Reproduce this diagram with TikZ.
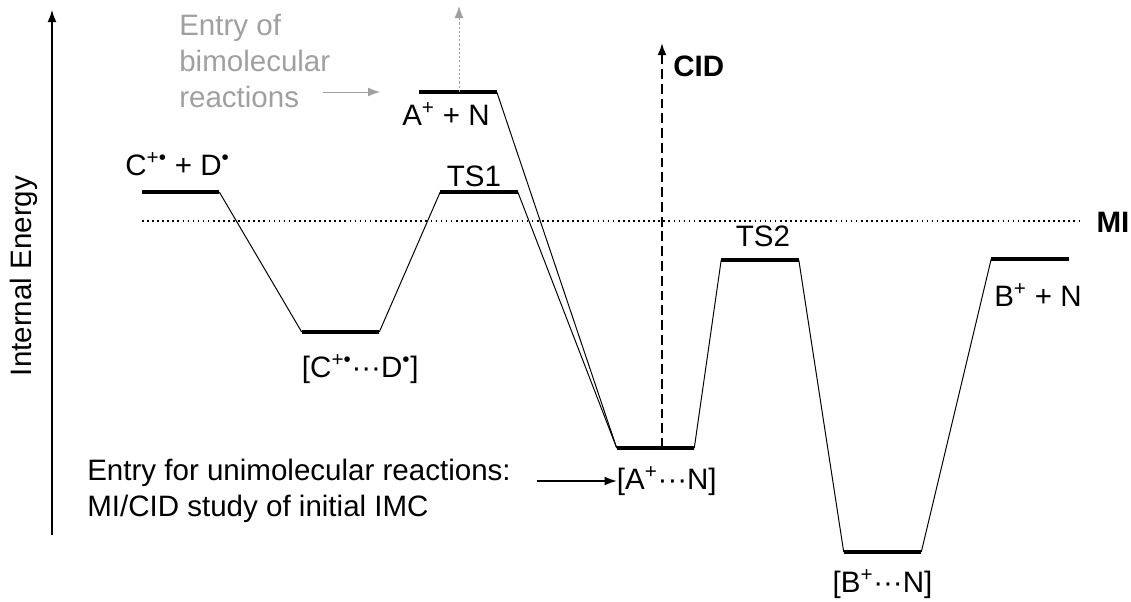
\documentclass[tikz,border=0pt]{standalone}
\usepackage{fontspec}
\setmainfont{Liberation Sans}
\usetikzlibrary{arrows.meta,positioning,calc}
\usepackage{xcolor}
\definecolor{enInk}{RGB}{0,0,0}
\definecolor{enGrey}{RGB}{160,160,160}
\tikzset{
    level/.style={
        inner sep=0pt,minimum width=1.925cm,minimum height=0pt
    },
    levelbar/.style={line width=2.6pt,draw=enInk},
    link/.style={line width=0.7pt,draw=enInk},
    lab/.style={
        font=\fontsize{21}{25.6}\selectfont,inner sep=0pt,text=enInk
    },
    boldlab/.style={
        lab,font=\fontsize{21}{25.6}\selectfont\bfseries
    },
    arrow/.style={
        -{Latex[length=3mm,width=2.2mm]},line width=0.8pt,draw=enInk
    }
}

\begin{document}
\begin{tikzpicture}[x=0.025cm,y=-0.025cm]
\useasboundingbox (0,0) rectangle (1131,601);

% energy axis
\coordinate (axbot) at (52,535);
\coordinate (axtop) at (52,10);
\draw[arrow] (axbot) -- (axtop);
\node[lab,rotate=90] (axlab) at (24,276) {Internal Energy};

% levels
\foreach \name/\xx/\yy in {cpd/180.5/192,cdc/340.5/332,apn/458/92,
    ts1/479/192,anc/655.5/448,ts2/760/260,bnc/882.5/552,bpn/1030/259}{
    \node[level] (\name) at (\xx,\yy) {};
}

% MI window
\coordinate (mil) at (142,221);
\coordinate (mir) at (1082,221);
\draw[line width=1.4pt,dash pattern=on 1.2pt off 2.4pt] (mil) -- (mir);
\node[boldlab] (milab) at (1113,222) {MI};

% profile
\draw[link] (cpd.east) -- (cdc.west);
\draw[link] (cdc.east) -- (ts1.west);
\draw[link] (ts1.east) -- (anc.west);
\draw[link] (apn.east) -- (anc.west);
\draw[link] (anc.east) -- (ts2.west);
\draw[link] (ts2.east) -- (bnc.west);
\draw[link] (bnc.east) -- (bpn.west);

\foreach \name in {cpd,cdc,apn,ts1,anc,ts2,bnc,bpn}{
    \draw[levelbar] (\name.west) -- (\name.east);
}

% labels
\node[lab] (cpdlab) at ($(cpd)+(-3,-28)$) {C\textsuperscript{+•} + D\textsuperscript{•}};
\node[lab,anchor=west] (cdclab) at ($(cdc.west)+(0,37)$) {[C\textsuperscript{+•}···D\textsuperscript{•}]};
\node[lab] (apnlab) at ($(apn)+(-12,22)$) {A\textsuperscript{+} + N};
\node[lab] (ts1lab) at ($(ts1)+(-5,-16)$) {TS1};
\node[lab,anchor=west] (anclab) at ($(anc.west)+(0,33)$) {[A\textsuperscript{+}···N]};
\node[lab] (ts2lab) at ($(ts2)+(3,-24)$) {TS2};
\node[lab] (bnclab) at ($(bnc)+(0,32)$) {[B\textsuperscript{+}···N]};
\node[lab] (bpnlab) at ($(bpn)+(8,36)$) {B\textsuperscript{+} + N};

% CID
\coordinate (cidtop) at (662,43);
\draw[arrow,line width=1.3pt,dash pattern=on 7pt off 3.5pt] (cidtop |- anc) -- (cidtop);
\node[boldlab,anchor=west] (cidlab) at (673,66) {CID};

% bimolecular entry
\coordinate (bitop) at (459,6);
\draw[arrow,draw=enGrey,line width=0.7pt,dash pattern=on 1.5pt off 1.5pt] (bitop |- apn) -- (bitop);
\node[lab,text=enGrey,align=left,anchor=west] (bitxt) at (179,61) {Entry of\\bimolecular\\reactions};
\coordinate (bistart) at (323,92);
\coordinate (biend) at (380,92);
\draw[arrow,draw=enGrey,line width=0.6pt] (bistart) -- (biend);

% unimolecular entry
\node[lab,align=left,anchor=west] (unitxt) at (87,491)
{Entry for unimolecular reactions:\\MI/CID study of initial IMC};
\draw[arrow] ($(anclab.west)+(-80,0)$) -- (anclab.west);

\end{tikzpicture}
\end{document}
